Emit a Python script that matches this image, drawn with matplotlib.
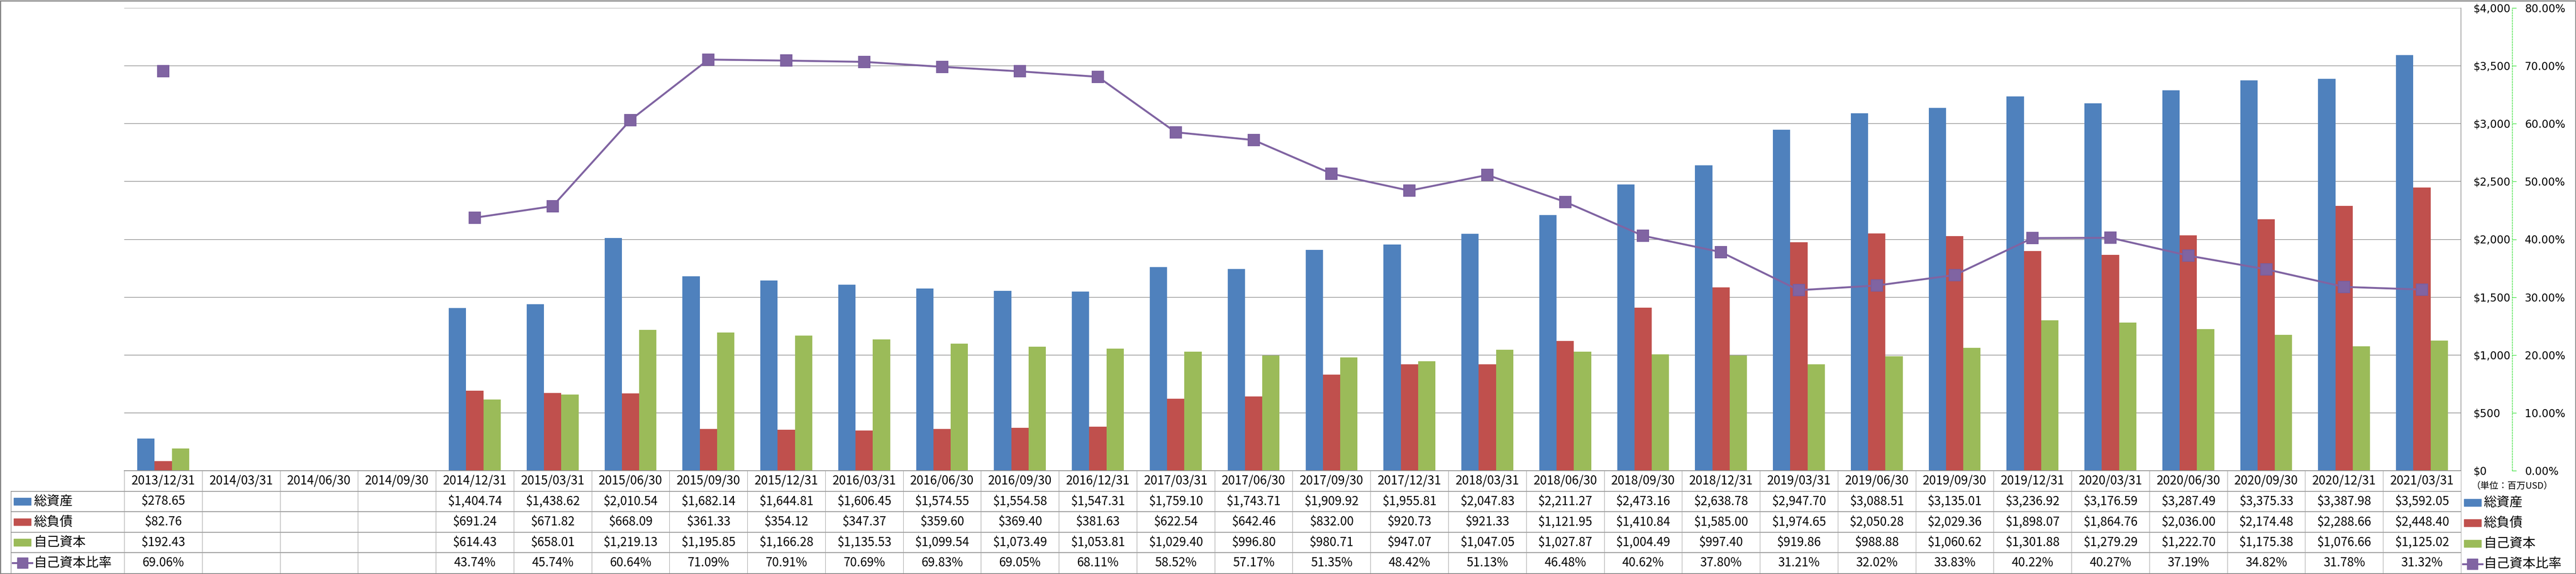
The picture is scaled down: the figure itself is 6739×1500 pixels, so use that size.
import numpy as np
import matplotlib
matplotlib.use('Agg')
import matplotlib.pyplot as plt
from matplotlib.patches import Rectangle
from matplotlib.lines import Line2D
from matplotlib.ticker import FuncFormatter, MultipleLocator

plt.rcParams['font.family'] = ['Noto Sans CJK JP', 'DejaVu Sans']

dates = ['2013/12/31', '2014/03/31', '2014/06/30', '2014/09/30', '2014/12/31',
         '2015/03/31', '2015/06/30', '2015/09/30', '2015/12/31',
         '2016/03/31', '2016/06/30', '2016/09/30', '2016/12/31',
         '2017/03/31', '2017/06/30', '2017/09/30', '2017/12/31',
         '2018/03/31', '2018/06/30', '2018/09/30', '2018/12/31',
         '2019/03/31', '2019/06/30', '2019/09/30', '2019/12/31',
         '2020/03/31', '2020/06/30', '2020/09/30', '2020/12/31',
         '2021/03/31']
nan = np.nan
total_assets = [278.65, nan, nan, nan, 1404.74, 1438.62, 2010.54, 1682.14, 1644.81,
                1606.45, 1574.55, 1554.58, 1547.31, 1759.10, 1743.71, 1909.92, 1955.81,
                2047.83, 2211.27, 2473.16, 2638.78, 2947.70, 3088.51, 3135.01, 3236.92,
                3176.59, 3287.49, 3375.33, 3387.98, 3592.05]
total_liab = [82.76, nan, nan, nan, 691.24, 671.82, 668.09, 361.33, 354.12,
              347.37, 359.60, 369.40, 381.63, 622.54, 642.46, 832.00, 920.73,
              921.33, 1121.95, 1410.84, 1585.00, 1974.65, 2050.28, 2029.36, 1898.07,
              1864.76, 2036.00, 2174.48, 2288.66, 2448.40]
equity = [192.43, nan, nan, nan, 614.43, 658.01, 1219.13, 1195.85, 1166.28,
          1135.53, 1099.54, 1073.49, 1053.81, 1029.40, 996.80, 980.71, 947.07,
          1047.05, 1027.87, 1004.49, 997.40, 919.86, 988.88, 1060.62, 1301.88,
          1279.29, 1222.70, 1175.38, 1076.66, 1125.02]
equity_ratio = [69.06, nan, nan, nan, 43.74, 45.74, 60.64, 71.09, 70.91,
                70.69, 69.83, 69.05, 68.11, 58.52, 57.17, 51.35, 48.42,
                51.13, 46.48, 40.62, 37.80, 31.21, 32.02, 33.83, 40.22,
                40.27, 37.19, 34.82, 31.78, 31.32]

names = ['総資産', '総負債', '自己資本', '自己資本比率']
colors = ['#4F81BD', '#C0504D', '#9BBB59', '#8064A2']

W, H = 6739, 1500
PL, PR, PT, PB = 325, 6438, 21, 1230   # plot area in pixels
TB = 1498                               # table bottom
GRID = '#888888'

fig = plt.figure(figsize=(W / 100, H / 100), dpi=100)
n = len(dates)
x = np.arange(n)

ax = fig.add_axes([PL / W, (H - PB) / H, (PR - PL) / W, (PB - PT) / H])
ax.set_xlim(-0.5, n - 0.5)
ax.set_ylim(0, 4000)
bw = 0.222
for k, vals in enumerate([total_assets, total_liab, equity]):
    ax.bar(x + (k - 1) * bw, vals, width=bw, color=colors[k], zorder=2)

ax2 = ax.twinx()
ax2.set_ylim(0, 80)
ax2.plot(x, equity_ratio, color=colors[3], lw=3.6, marker='s', markersize=22,
         markerfacecolor='#8064A2', markeredgecolor='#7A5D9E', markeredgewidth=1.5,
         zorder=5, solid_joinstyle='round')

# both scales on the right side
ax.yaxis.set_major_locator(MultipleLocator(500))
ax.yaxis.set_major_formatter(FuncFormatter(lambda v, p: '${:,.0f}'.format(v)))
ax.yaxis.tick_right()
ax.tick_params(axis='y', which='both', left=False, labelleft=False, right=False,
               labelright=True, length=0, pad=23.5, labelsize=20,
               labelfontfamily='DejaVu Sans')
ax.set_xticks([])
ax.grid(axis='y', color=GRID, lw=1.1)
ax.set_axisbelow(True)
for s in ['left', 'top', 'bottom']:
    ax.spines[s].set_visible(False)
ax.spines['right'].set_color(GRID)
ax.spines['right'].set_linewidth(1.1)

ax2.yaxis.set_major_locator(MultipleLocator(10))
ax2.yaxis.set_major_formatter(FuncFormatter(lambda v, p: '{:.2f}%'.format(v)))
for s in ['left', 'top', 'bottom']:
    ax2.spines[s].set_visible(False)
ax2.spines['right'].set_position(('outward', 96.5))
ax2.spines['right'].set_color('#22DD22')
ax2.spines['right'].set_linestyle((0, (3, 2)))
ax2.spines['right'].set_linewidth(1)
ax2.tick_params(axis='y', length=8, width=1, color='#22DD22', pad=15.5,
                labelsize=20, labelcolor='black', labelfontfamily='DejaVu Sans')

# data table under the plot
tax = fig.add_axes([PL / W, (H - TB) / H, (PR - PL) / W, (TB - PB) / H])
tax.set_xlim(-0.5, n - 0.5)
tax.set_ylim(5, 0)
tax.axis('off')
colw = (PR - PL) / n
rowh = (TB - PB) / 5


def px2x(px):
    return -0.5 + (px - PL) / colw


def py2y(py):
    return (py - PB) / rowh


lc = '#8C8C8C'
xl = px2x(29)
tax.plot([-0.5, n - 0.5], [0, 0], color=lc, lw=1.4, clip_on=False)
for r in range(1, 5):
    tax.plot([xl, n - 0.5], [r, r], color=lc, lw=1.4, clip_on=False)
tax.plot([xl, xl], [1, 5], color=lc, lw=1.1, clip_on=False)
for i in range(n + 1):
    tax.plot([i - 0.5, i - 0.5], [0, 5], color='#A0A0A0', lw=0.9, clip_on=False)

rows = [total_assets, total_liab, equity]
for i in range(n):
    tax.text(i, 0.5, dates[i], ha='center', va='center', fontsize=23)
    for r, vals in enumerate(rows):
        if not np.isnan(vals[i]):
            tax.text(i, r + 1.5, '${:,.2f}'.format(vals[i]), ha='center', va='center', fontsize=23)
    if not np.isnan(equity_ratio[i]):
        tax.text(i, 4.5, '{:.2f}%'.format(equity_ratio[i]), ha='center', va='center', fontsize=23)


def legend_key(k, x0, x1, tx, yc):
    if k < 3:
        tax.add_patch(Rectangle((px2x(x0), yc - 0.177), px2x(x1) - px2x(x0), 0.354,
                                color=colors[k], clip_on=False))
    else:
        tax.add_line(Line2D([px2x(x0 - 3), px2x(x1 + 3)], [yc, yc], color=colors[3], lw=3.6,
                            clip_on=False))
        tax.add_line(Line2D([px2x((x0 + x1) / 2)], [yc], marker='s', markersize=20,
                            color='#8064A2', markeredgecolor='#7A5D9E', clip_on=False))
    tax.text(px2x(tx), yc, names[k], ha='left', va='center', fontsize=24.5, clip_on=False)


for k in range(4):
    legend_key(k, 36, 81, 88, k + 1.5)
    legend_key(k, 6446, 6491, 6497, k + 1.55)

tax.text(px2x(6572), py2y(1270), '（単位：百万USD）', ha='center', va='center', fontsize=17,
         clip_on=False)

fig.patches.append(Rectangle((1 / W, 1 / H), 1 - 2.5 / W, 1 - 2.5 / H, transform=fig.transFigure,
                             fill=False, edgecolor='#868686', lw=2.2))

fig.savefig('out.png', dpi=100)
